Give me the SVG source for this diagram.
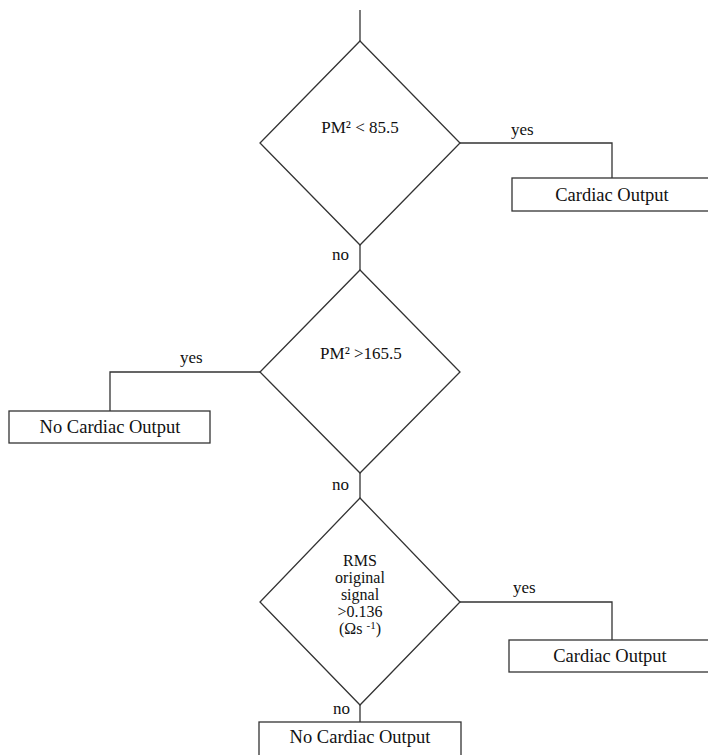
<svg xmlns="http://www.w3.org/2000/svg" width="708" height="755" viewBox="0 0 708 755">
<style>
.s{fill:#fff;stroke:#333;stroke-width:1.3}
.c{fill:none;stroke:#333;stroke-width:1.3}
text{font-family:"Liberation Serif","Times New Roman",serif;font-size:17px;fill:#111}
.m{text-anchor:middle}
.r{font-size:16px;text-anchor:middle}
.b{font-size:18.5px;text-anchor:middle}
</style>
<rect width="708" height="755" fill="#fff"/>
<g id="connectors">
<path class="c" d="M360,10V41"/>
<path class="c" d="M460,143H612V178"/>
<path class="c" d="M360,245V270"/>
<path class="c" d="M260,372H110V411"/>
<path class="c" d="M360,473V498"/>
<path class="c" d="M460,602H612V640"/>
<path class="c" d="M360,705V722"/>
<text x="511" y="135">yes</text>
<text x="332" y="260">no</text>
<text x="180" y="363">yes</text>
<text x="332" y="490">no</text>
<text x="513" y="593">yes</text>
<text x="333" y="714">no</text>
</g>
<g id="d1">
<polygon class="s" points="360,41 460,143 360,245 260,143"/>
<text class="m" x="360" y="133">PM² &lt; 85.5</text>
</g>
<g id="b1">
<rect class="s" x="512" y="178" width="200" height="33"/>
<text class="b" x="612" y="201">Cardiac Output</text>
</g>
<g id="d2">
<polygon class="s" points="360,270 460,372 360,473 260,372"/>
<text class="m" x="361" y="359">PM² &gt;165.5</text>
</g>
<g id="b2">
<rect class="s" x="9" y="411" width="201" height="32"/>
<text class="b" x="110" y="433">No Cardiac Output</text>
</g>
<g id="d3">
<polygon class="s" points="360,498 460,602 360,705 260,602"/>
<text class="r" x="360" y="566">RMS</text>
<text class="r" x="360" y="583">original</text>
<text class="r" x="360" y="600">signal</text>
<text class="r" x="360" y="617">&gt;0.136</text>
<text class="r" x="360" y="634">(Ωs <tspan font-size="11" dy="-5">-1</tspan><tspan dy="5">)</tspan></text>
</g>
<g id="b3">
<rect class="s" x="509" y="640" width="203" height="32"/>
<text class="b" x="610" y="662">Cardiac Output</text>
</g>
<g id="b4">
<rect class="s" x="259" y="722" width="202" height="40"/>
<text class="b" x="360" y="743">No Cardiac Output</text>
</g>
</svg>
